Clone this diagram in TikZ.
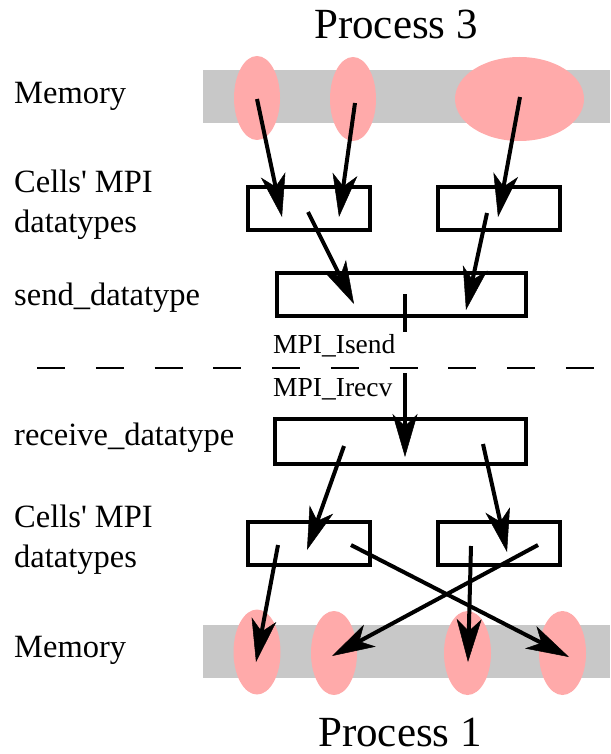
\documentclass[tikz,border=0pt]{standalone}
\usepackage{fontspec}
\setmainfont{Liberation Serif}[Ligatures=TeXOff]
\usetikzlibrary{arrows.meta,shapes.geometric}
\definecolor{bandgray}{RGB}{200,200,200}
\definecolor{blobpink}{RGB}{255,170,170}
\begin{document}
\begin{tikzpicture}[x=1pt,y=-1pt,
  lbl/.style={anchor=base west, inner sep=0pt, font=\fontsize{32.5}{39}\selectfont},
  small/.style={anchor=base west, inner sep=0pt, font=\fontsize{27.5}{33}\selectfont},
  title/.style={anchor=base west, inner sep=0pt, font=\fontsize{43}{50}\selectfont},
  band/.style={fill=bandgray, draw=none},
  blob/.style={ellipse, fill=blobpink, draw=none, inner sep=0pt},
  dbox/.style={draw=black, line width=4pt, rectangle, inner sep=0pt, fill=none},
  arr/.style={line width=4pt, -{Stealth[length=43pt,width=25pt,inset=12pt,line width=0.5pt]}},
  link/.style={line width=4pt},
  sep/.style={line width=2.5pt, dash pattern=on 28pt off 30.75pt}
]
\useasboundingbox (0,0) rectangle (610,754);

% titles and labels
\node[title] (p3) at (314,39) {Process 3};
\node[title] (p1) at (318,746) {Process 1};
\node[lbl] (lmem1) at (14,104) {Memory};
\node[lbl] (lcell1a) at (14,192) {Cells' MPI};
\node[lbl] (lcell1b) at (14,232) {datatypes};
\node[lbl] (lsend) at (14,305) {send\_datatype};
\node[lbl] (lrecv) at (14,445) {receive\_datatype};
\node[lbl] (lcell2a) at (14,527) {Cells' MPI};
\node[lbl] (lcell2b) at (14,567) {datatypes};
\node[lbl] (lmem2) at (14,657) {Memory};
\node[small] (isend) at (273,353) {MPI\_Isend};
\node[small] (irecv) at (273,396) {MPI\_Irecv};

% memory bands
\fill[band] (203,70) rectangle (610,123);
\fill[band] (203,625) rectangle (610,678);

% memory blobs
\node[blob, minimum width=46pt, minimum height=84pt] (e1) at (257,98) {};
\node[blob, minimum width=46pt, minimum height=84pt] (e2) at (353,99) {};
\node[blob, minimum width=129pt, minimum height=84pt] (e3) at (519.5,99) {};
\node[blob, minimum width=47pt, minimum height=85pt] (f1) at (257,652) {};
\node[blob, minimum width=46pt, minimum height=84pt] (f2) at (334,653) {};
\node[blob, minimum width=47pt, minimum height=84pt] (f3) at (467.5,653) {};
\node[blob, minimum width=47pt, minimum height=84pt] (f4) at (562.5,653) {};

% boxes
\node[dbox, minimum width=122pt, minimum height=43pt] (tb1) at (309,208.5) {};
\node[dbox, minimum width=122pt, minimum height=43pt] (tb2) at (499,208.5) {};
\node[dbox, minimum width=249pt, minimum height=43pt] (send) at (401.5,294.5) {};
\node[dbox, minimum width=251pt, minimum height=45pt] (recv) at (400.5,441.5) {};
\node[dbox, minimum width=122pt, minimum height=43pt] (bb1) at (309,543.5) {};
\node[dbox, minimum width=122pt, minimum height=43pt] (bb2) at (499,543.5) {};

% separator
\coordinate (sepL) at (37,368);
\coordinate (sepR) at (596,368);
\draw[sep] (sepL) -- (sepR);

% connector points
\coordinate (a1s) at (257,99);  \coordinate (a1e) at (282,217);
\coordinate (a2s) at (355,103); \coordinate (a2e) at (339,217);
\coordinate (a3s) at (520,97);  \coordinate (a3e) at (498,217);
\coordinate (a4s) at (308,212); \coordinate (a4e) at (354,304);
\coordinate (a5s) at (487,213); \coordinate (a5e) at (466,310);
\coordinate (ts) at (405,294);  \coordinate (te) at (405,332);
\coordinate (rs) at (405,373);  \coordinate (re) at (405,457);
\coordinate (b1s) at (344,446); \coordinate (b1e) at (307,550);
\coordinate (b2s) at (483,444); \coordinate (b2e) at (507,552);
\coordinate (c1s) at (278,545); \coordinate (c1e) at (256,662);
\coordinate (c2s) at (351,545); \coordinate (c2e) at (569,657);
\coordinate (c3s) at (538,545); \coordinate (c3e) at (332,656);
\coordinate (c4s) at (471,546); \coordinate (c4e) at (468,662);

% arrows
\draw[arr] (a1s) -- (a1e);
\draw[arr] (a2s) -- (a2e);
\draw[arr] (a3s) -- (a3e);
\draw[arr] (a4s) -- (a4e);
\draw[arr] (a5s) -- (a5e);
\draw[link] (ts) -- (te);
\draw[arr] (rs) -- (re);
\draw[arr] (b1s) -- (b1e);
\draw[arr] (b2s) -- (b2e);
\draw[arr] (c1s) -- (c1e);
\draw[arr] (c2s) -- (c2e);
\draw[arr] (c3s) -- (c3e);
\draw[arr] (c4s) -- (c4e);
\end{tikzpicture}
\end{document}
